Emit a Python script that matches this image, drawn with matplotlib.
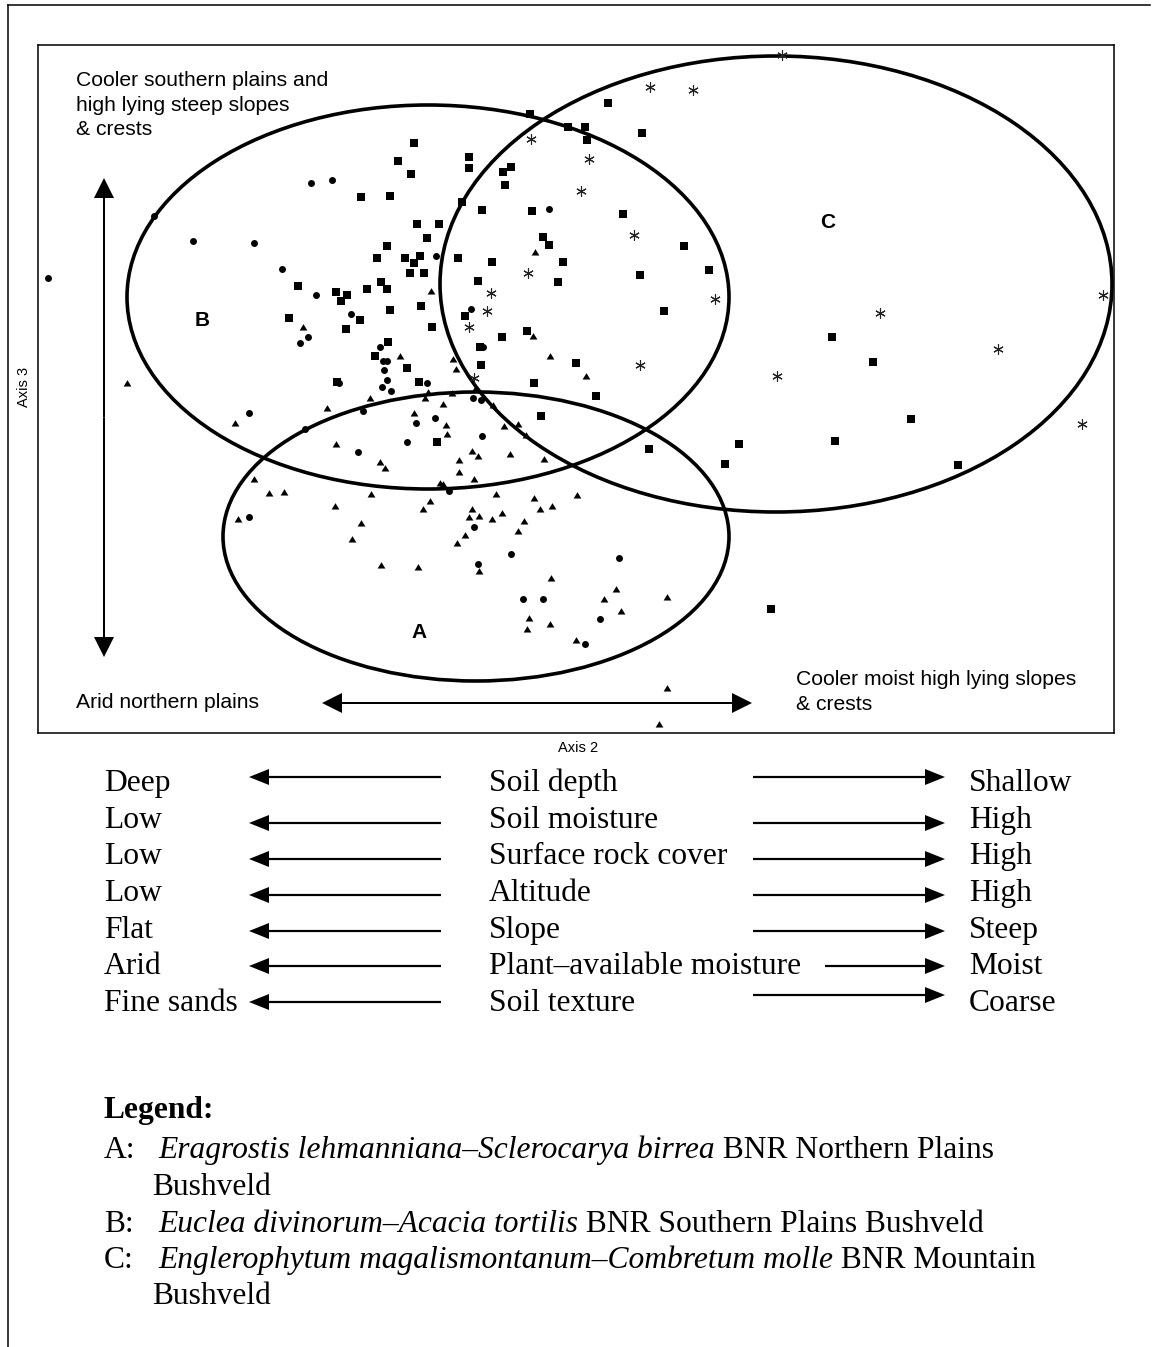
import numpy as np
import matplotlib
matplotlib.use("Agg")
import matplotlib.pyplot as plt
from matplotlib.patches import Ellipse

# ---------------- data (ordination scores; plot units) ----------------
square_pts = [
    (414, 143), (398, 161), (411, 174), (469, 157), (469, 168), (503, 172), (511, 167), (505, 185),
    (361, 197), (390, 196), (462, 202), (482, 210), (532, 211), (623, 214),
    (417, 224), (439, 224), (427, 238), (387, 246), (377, 258), (405, 258), (420, 256), (414, 263), (458, 258),
    (410, 273), (424, 273), (492, 262), (563, 262), (543, 237), (549, 245), (684, 246), (709, 270), (640, 275),
    (298, 286), (336, 292), (347, 295), (341, 301), (367, 289), (381, 282), (387, 289), (478, 281), (558, 282),
    (421, 306), (390, 310), (465, 316), (432, 327), (289, 318), (360, 320), (346, 329), (388, 342), (375, 356),
    (527, 331), (502, 337), (480, 347), (407, 368), (481, 365), (576, 363), (664, 311),
    (337, 382), (419, 382), (534, 383), (596, 396), (541, 416), (437, 442), (649, 449), (739, 444), (725, 464),
    (530, 114), (608, 103), (568, 127), (585, 127), (587, 140), (642, 133),
    (832, 337), (873, 362), (911, 419), (835, 441), (958, 465), (771, 609),
]
circle_pts = [
    (48, 278), (154, 216), (193, 241), (254, 243), (282, 269), (311, 183), (332, 180),
    (436, 256), (549, 209), (316, 295), (471, 309), (483, 347), (351, 314), (308, 337), (300, 343),
    (380, 347), (383, 361), (387, 361), (384, 370), (387, 380), (382, 387), (391, 391), (339, 383), (427, 383),
    (473, 398), (481, 400), (435, 418), (416, 423), (482, 436), (407, 442), (363, 411), (249, 413), (305, 429),
    (358, 452), (449, 491), (249, 517), (474, 527), (511, 554), (478, 564), (619, 558), (523, 599), (543, 599),
    (600, 619), (585, 644),
]
triangle_pts = [
    (431, 291), (535, 252), (533, 336), (303, 327), (400, 356), (453, 359), (456, 369), (550, 356), (586, 376),
    (127, 383), (428, 392), (425, 398), (452, 393), (475, 389), (493, 405), (443, 404), (414, 413),
    (446, 425), (447, 434), (504, 426), (518, 424), (526, 435), (472, 451), (478, 456), (510, 454), (544, 459),
    (459, 460), (459, 472), (380, 462), (385, 468), (474, 479), (440, 483), (443, 484), (496, 494), (534, 498),
    (577, 495), (430, 501), (423, 509), (472, 509), (469, 517), (479, 516), (492, 519),
    (502, 513), (540, 509), (552, 506), (524, 521), (370, 398), (327, 408), (235, 423), (336, 444), (254, 479),
    (269, 493), (284, 492), (371, 494), (335, 506), (238, 519), (361, 523), (352, 539), (381, 565), (465, 535),
    (457, 543), (518, 531), (418, 567), (479, 571), (551, 578), (616, 589), (604, 599), (621, 611), (667, 597),
    (529, 618), (527, 629), (550, 624), (576, 640), (667, 688), (659, 724),
]
asterisk_pts = [
    (782, 55), (650, 87), (693, 90), (531, 139), (589, 159), (581, 191), (634, 235), (528, 273), (491, 293),
    (487, 311), (469, 327), (474, 378), (715, 299), (640, 365), (777, 376), (880, 313), (998, 349),
    (1103, 295), (1082, 424),
]

community_labels = ["A", "B", "C"]
community_centres = [(476, 536.5), (428, 297), (776, 284)]
community_widths = [506, 602, 672]
community_heights = [289, 384, 456]
community_label_pos = [(419, 632), (202, 320), (828, 223)]

gradient_low = ["Deep", "Low", "Low", "Low", "Flat", "Arid", "Fine sands"]
gradient_factor = ["Soil depth", "Soil moisture", "Surface rock cover", "Altitude", "Slope",
                   "Plant\u2013available moisture", "Soil texture"]
gradient_high = ["Shallow", "High", "High", "High", "Steep", "Moist", "Coarse"]

legend_keys = ["A:", "B:", "C:"]
legend_species = ["Eragrostis lehmanniana\u2013Sclerocarya birrea",
                  "Euclea divinorum\u2013Acacia tortilis",
                  "Englerophytum magalismontanum\u2013Combretum molle"]
legend_rest = [" BNR Northern Plains", " BNR Southern Plains Bushveld", " BNR Mountain"]
legend_wrap = ["Bushveld", None, "Bushveld"]

# ---------------- layout ----------------
W, H = 1156, 1347
SANS = "Liberation Sans"
SERIF = "Liberation Serif"

fig = plt.figure(figsize=(W / 100, H / 100), dpi=100)
bx0, bx1, by0, by1 = 38, 1114, 45, 733
ax = fig.add_axes([bx0 / W, 1 - by1 / H, (bx1 - bx0) / W, (by1 - by0) / H])
ax.set_xlim(bx0, bx1)
ax.set_ylim(by1, by0)
ax.set_xticks([])
ax.set_yticks([])
for s in ax.spines.values():
    s.set_linewidth(1.1)

# communities (ellipses)
for lab, c, w, h, lp in zip(community_labels, community_centres, community_widths,
                            community_heights, community_label_pos):
    ax.add_patch(Ellipse(c, w, h, fill=False, lw=2.6, ec="black", zorder=2))
    ax.text(lp[0], lp[1], lab, fontsize=15, fontweight="bold", family=SANS,
            ha="center", va="center", zorder=4)

tri_marker = [(-1, -0.78), (1, -0.78), (0, 0.86)]
sq = np.array(square_pts).T
ci = np.array(circle_pts).T
tr = np.array(triangle_pts).T
st = np.array(asterisk_pts).T
ax.plot(sq[0], sq[1], ls="none", marker="s", ms=5.3, color="black", mew=0, clip_on=False, zorder=3)
ax.plot(ci[0], ci[1], ls="none", marker="o", ms=5.0, color="black", mew=0, clip_on=False, zorder=3)
ax.plot(tr[0], tr[1], ls="none", marker=tri_marker, ms=5.6, color="black", mew=0, clip_on=False, zorder=3)
ax.plot(st[0], st[1], ls="none", marker=(6, 2, 0), ms=7.5, mew=0.8, color="#222222",
        clip_on=False, zorder=3)

# overlay in figure pixel coordinates
ov = fig.add_axes([0, 0, 1, 1])
ov.set_xlim(0, W)
ov.set_ylim(H, 0)
ov.axis("off")
ov.patch.set_alpha(0)

# page frame
ov.plot([8, 8], [5, H], color="black", lw=1.1, clip_on=False)
ov.plot([8, 1150], [5, 5], color="black", lw=1.1, clip_on=False)

def arrow(x0, y0, x1, y1, w=2.0, hw=20, hl=20):
    ov.arrow(x0, y0, x1 - x0, y1 - y0, width=w, head_width=hw, head_length=hl,
             length_includes_head=True, fc="black", ec="black", lw=0)

# double arrows inside the plot
vx, vt, vb = 104, 178, 657
arrow(vx, (vt + vb) / 2, vx, vt)
arrow(vx, (vt + vb) / 2, vx, vb)
hy, hl_, hr = 703, 322, 752
arrow((hl_ + hr) / 2, hy, hl_, hy)
arrow((hl_ + hr) / 2, hy, hr, hy)

# annotations inside the plot
fs_in = 15.2
for txt, yb in zip(["Cooler southern plains and", "high lying steep slopes", "& crests"], [86, 111, 135]):
    ov.text(76, yb, txt, fontsize=fs_in, family=SANS, va="baseline", ha="left")
ov.text(76, 708, "Arid northern plains", fontsize=fs_in, family=SANS, va="baseline", ha="left")
for txt, yb in zip(["Cooler moist high lying slopes", "& crests"], [685, 710]):
    ov.text(796, yb, txt, fontsize=fs_in, family=SANS, va="baseline", ha="left")

ov.text(23.5, 387, "Axis 3", fontsize=10.5, family=SANS, rotation=90, ha="center", va="center")
ov.text(578, 748, "Axis 2", fontsize=10.5, family=SANS, ha="center", va="center")

# environmental gradient block
fs = 22.7
row_base = [791 + 36.7 * i for i in range(7)]
left_arrow_y = [777, 823, 859, 895, 931, 966, 1002]
right_arrow_y = [777, 823, 859, 895, 931, 966, 995]
right_tail = [753, 753, 753, 753, 753, 825, 753]
for i in range(7):
    ov.text(104, row_base[i], gradient_low[i], fontsize=fs, family=SERIF, va="baseline")
    ov.text(489, row_base[i], gradient_factor[i], fontsize=fs, family=SERIF, va="baseline")
    ov.text(969, row_base[i], gradient_high[i], fontsize=fs, family=SERIF, va="baseline")
    arrow(441, left_arrow_y[i], 249, left_arrow_y[i], w=2.2, hw=16, hl=20)
    arrow(right_tail[i], right_arrow_y[i], 945, right_arrow_y[i], w=2.2, hw=16, hl=20)

# legend
ov.text(104, 1118, "Legend:", fontsize=fs, family=SERIF, fontweight="bold", va="baseline")
leg_base = [1158, 1231.5, 1268]
wrap_base = [1195, None, 1304.5]
for key, sp, rest, wrap, yb, wb in zip(legend_keys, legend_species, legend_rest, legend_wrap,
                                       leg_base, wrap_base):
    ov.text(104, yb, key, fontsize=fs, family=SERIF, va="baseline")
    t = ov.text(158, yb, sp, fontsize=fs, family=SERIF, style="italic", va="baseline")
    ov.annotate(rest, xy=(1, 0), xycoords=t, fontsize=fs, family=SERIF, va="bottom", ha="left")
    if wrap:
        ov.text(152, wb, wrap, fontsize=fs, family=SERIF, va="baseline")

fig.savefig("out.png", dpi=100)
